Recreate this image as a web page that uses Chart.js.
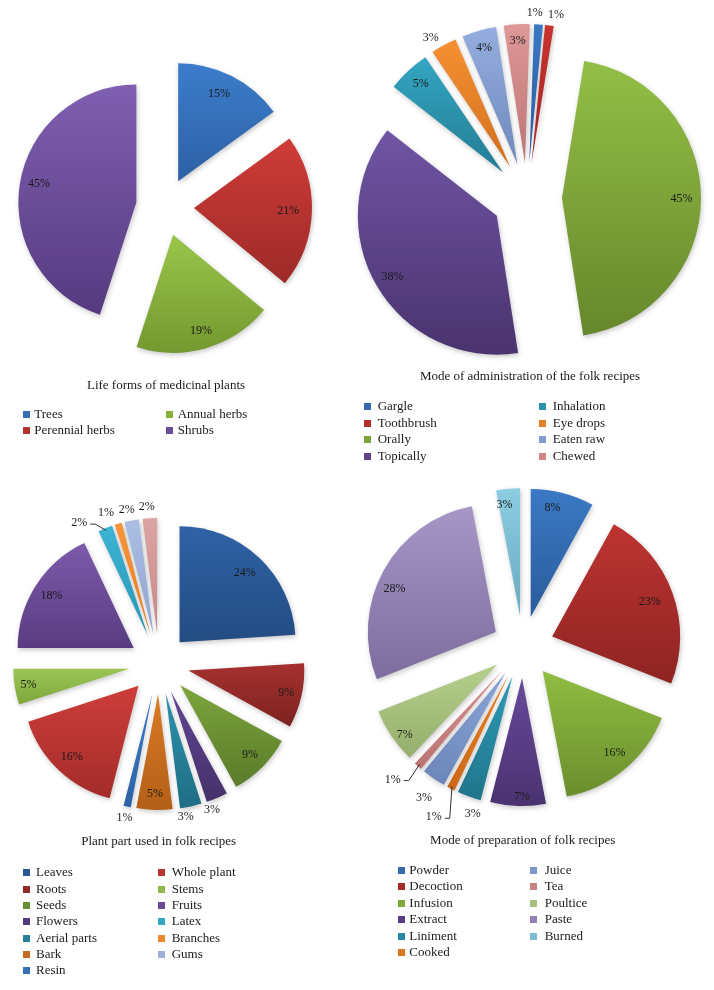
<!DOCTYPE html>
<html><head><meta charset="utf-8">
<script src="https://cdn.jsdelivr.net/npm/chart.js@4.4.0/dist/chart.umd.min.js"></script>
<style>
html,body{margin:0;padding:0;background:#fff;}
body{width:714px;height:990px;overflow:hidden;position:relative;font-family:"Liberation Serif","Times New Roman",serif;color:#1a1a1a;}
canvas{position:absolute;}
.title{position:absolute;font-size:13px;white-space:nowrap;transform:translateX(-50%);line-height:16px;}
.leg{position:absolute;font-size:13px;white-space:nowrap;line-height:16px;height:16px;}
.sq{position:absolute;width:7px;height:7px;}
</style>
</head><body>
<script>
// ---- data ----
const lifeFormLabels = ['Trees', 'Perennial herbs', 'Annual herbs', 'Shrubs'];
const lifeFormValues = [15, 21, 19, 45];

const adminLabels = ['Gargle', 'Toothbrush', 'Orally', 'Topically', 'Inhalation', 'Eye drops', 'Eaten raw', 'Chewed'];
const adminValues = [1, 1, 45, 38, 5, 3, 4, 3];

const partLabels = ['Leaves', 'Roots', 'Seeds', 'Flowers', 'Aerial parts', 'Bark', 'Resin', 'Whole plant', 'Stems', 'Fruits', 'Latex', 'Branches', 'Gums', 'Others'];
const partValues = [24, 9, 9, 3, 3, 5, 1, 16, 5, 18, 2, 1, 2, 2];

const prepLabels = ['Powder', 'Decoction', 'Infusion', 'Extract', 'Liniment', 'Cooked', 'Juice', 'Tea', 'Poultice', 'Paste', 'Burned'];
const prepValues = [8, 23, 16, 7, 3, 1, 3, 1, 7, 28, 3];

const chartTitles = ['Life forms of medicinal plants', 'Mode of administration of the folk recipes', 'Plant part used in folk recipes', 'Mode of preparation of folk recipes'];

// ---- styles / layout ----
const specs = [
  { labels: lifeFormLabels, values: lifeFormValues, title: chartTitles[0],
    cx: 165, cy: 207, radius: 118, explode: 29, rotation: 0,
    light: ['#3c7dcb', '#cf3c38', '#9ac64b', '#7f5fb0'],
    dark:  ['#2d60a5', '#9d2a28', '#73982f', '#563a80'],
    labelR: [0.82, 0.80, 0.85, 0.84], labelShift: [-2, 0, 0, 2], leaders: [],
    titleX: 166, titleY: 385, legRows: 2, legY0: 413.5, legDy: 16, legCols: [[22.7, 34.3], [166, 177.7]], legCount: 4 },
  { labels: adminLabels, values: adminValues, title: chartTitles[1],
    cx: 527, cy: 198, radius: 139, explode: 35, rotation: 2,
    light: ['#3a78c4', '#c9322f', '#93bf46', '#7055a4', '#34a6c2', '#f59132', '#95aedf', '#de9898'],
    dark:  ['#2b5c9e', '#a02725', '#66872b', '#4a336e', '#237c93', '#d26f1c', '#6f89bb', '#bd7474'],
    labelR: [1.08, 1.08, 0.86, 0.87, 0.87, 1.09, 0.87, 0.88], labelShift: [-1.7, 2, 0, 0, 0, -3, 0, 0], leaders: [],
    titleX: 530, titleY: 376, legRows: 4, legY0: 406.3, legDy: 16.5, legCols: [[364.3, 377.7], [538.7, 552.7]], legCount: 8 },
  { labels: partLabels, values: partValues, title: chartTitles[2],
    cx: 159, cy: 664, radius: 116, explode: 30, rotation: 0,
    light: ['#2f62a6', '#a6312f', '#7ca53b', '#614592', '#2c92ad', '#db7b26', '#3b7bc6', '#cd3d3a', '#9bc654', '#7d5aab', '#3db4d4', '#f8953b', '#abbee4', '#dca4a4'],
    dark:  ['#234c82', '#7c2220', '#5a7a2a', '#45306a', '#1f6e84', '#b35f17', '#2e62a6', '#a32c2a', '#7ea73c', '#593c81', '#2996b5', '#e57d22', '#8fa3cf', '#c68787'],
    labelR: [0.82, 0.865, 0.85, 1.08, 1.08, 0.865, 1.10, 0.84, 0.88, 0.84, 1.14, 1.12, 1.10, 1.10],
    labelShift: [0, 0, 0, 4.3, 3.3, 0, 0, 0, 0, 0, -9.7, -3.9, -1.2, -1.1], leaders: [10],
    titleX: 158.7, titleY: 841, legRows: 7, legY0: 872.3, legDy: 16.35, legCols: [[22.7, 36], [158.3, 171.7]], legCount: 13 },
  { labels: prepLabels, values: prepValues, title: chartTitles[3],
    cx: 522.5, cy: 646.5, radius: 128, explode: 31, rotation: 0,
    light: ['#3b79c4', '#bd3432', '#90bd42', '#67499b', '#2e9bb6', '#ee8526', '#8aa6da', '#d99090', '#b5cf8c', '#a697c7', '#8ccde2'],
    dark:  ['#2a5b9b', '#8e2422', '#6b8e2d', '#4a3270', '#20758b', '#cc6817', '#6b85b8', '#bb7272', '#95ae6b', '#7d6d9e', '#6aaac0'],
    labelR: [0.87, 0.81, 0.85, 0.93, 1.12, 1.26, 1.17, 1.21, 0.91, 0.86, 0.88],
    labelShift: [-3.1, 0, -1.7, -1.8, -3.7, 0.8, -1.2, 3.7, -3.2, -5.7, -2.6], leaders: [5, 7],
    titleX: 522.7, titleY: 840, legRows: 6, legY0: 869.5, legDy: 16.5, legCols: [[397.7, 409.3], [530.3, 544.7]], legCount: 11 }
];

const CANVAS = 400;

function mixHex(a, b) {
  const pa = [1, 3, 5].map(k => parseInt(a.substr(k, 2), 16));
  const pb = [1, 3, 5].map(k => parseInt(b.substr(k, 2), 16));
  return 'rgb(' + pa.map((v, k) => Math.round((v + pb[k]) / 2)).join(',') + ')';
}

function gradientFill(spec) {
  return (c) => {
    const chart = c.chart, a = chart.chartArea, i = c.dataIndex;
    if (!a || i === undefined) return spec.light[0];
    const vals = c.dataset.data;
    const total = vals.reduce((s, v) => s + v, 0);
    let cum = 0; for (let j = 0; j < i; j++) cum += vals[j];
    const base = (spec.rotation - 90) * Math.PI / 180;
    const a0 = base + cum / total * 2 * Math.PI;
    const a1 = base + (cum + vals[i]) / total * 2 * Math.PI;
    const mid = (a0 + a1) / 2;
    const cy = (a.top + a.bottom) / 2 + Math.sin(mid) * spec.explode;
    let ymin = cy, ymax = cy;
    for (let k = 0; k <= 48; k++) {
      const t = a0 + (a1 - a0) * k / 48;
      const y = cy + Math.sin(t) * spec.radius;
      ymin = Math.min(ymin, y); ymax = Math.max(ymax, y);
    }
    const g = chart.ctx.createLinearGradient(0, ymin, 0, ymax + 0.01);
    g.addColorStop(0, spec.light[i]);
    g.addColorStop(1, spec.dark[i]);
    return g;
  };
}

function makePlugin(spec) {
  return {
    id: 'explodeAndLabel',
    beforeDatasetsDraw(chart) {
      const meta = chart.getDatasetMeta(0);
      const a = chart.chartArea;
      const cx = (a.left + a.right) / 2, cy = (a.top + a.bottom) / 2;
      meta.data.forEach(arc => {
        const mid = (arc.startAngle + arc.endAngle) / 2;
        arc.x = cx + Math.cos(mid) * spec.explode;
        arc.y = cy + Math.sin(mid) * spec.explode;
      });
      const ctx = chart.ctx;
      ctx.save();
      ctx.shadowColor = 'rgba(0,0,0,0.22)';
      ctx.shadowBlur = 5;
      ctx.shadowOffsetX = 1;
      ctx.shadowOffsetY = 2;
    },
    afterDatasetsDraw(chart) {
      const ctx = chart.ctx;
      ctx.restore();
      const meta = chart.getDatasetMeta(0);
      const vals = chart.data.datasets[0].data;
      ctx.save();
      ctx.font = '12px "Liberation Serif", "Times New Roman", serif';
      ctx.fillStyle = '#1a1a1a';
      ctx.strokeStyle = '#333';
      ctx.lineWidth = 1;
      ctx.textAlign = 'center';
      ctx.textBaseline = 'middle';
      meta.data.forEach((arc, i) => {
        const am = (arc.startAngle + arc.endAngle) / 2;
        const ang = am + (spec.labelShift[i] || 0) * Math.PI / 180;
        const r = arc.outerRadius * spec.labelR[i];
        const x = arc.x + Math.cos(ang) * r;
        const y = arc.y + Math.sin(ang) * r;
        const text = vals[i] + '%';
        ctx.fillText(text, x, y);
        if (spec.leaders.includes(i)) {
          const w = ctx.measureText(text).width;
          const ex = arc.x + Math.cos(am) * arc.outerRadius * 0.98;
          const ey = arc.y + Math.sin(am) * arc.outerRadius * 0.98;
          ctx.beginPath();
          ctx.moveTo(x + w / 2 + 3, y + 1);
          ctx.lineTo(x + w / 2 + 8, y + 1);
          ctx.lineTo(ex, ey);
          ctx.stroke();
        }
      });
      ctx.restore();
    }
  };
}

specs.forEach((spec) => {
  const cv = document.createElement('canvas');
  cv.width = CANVAS; cv.height = CANVAS;
  cv.style.left = (spec.cx - CANVAS / 2) + 'px';
  cv.style.top = (spec.cy - CANVAS / 2) + 'px';
  cv.style.width = CANVAS + 'px'; cv.style.height = CANVAS + 'px';
  document.body.appendChild(cv);

  new Chart(cv.getContext('2d'), {
    type: 'pie',
    data: {
      labels: spec.labels,
      datasets: [{
        data: spec.values,
        backgroundColor: gradientFill(spec),
        borderWidth: 0,
        hoverOffset: 0
      }]
    },
    options: {
      responsive: false,
      animation: false,
      devicePixelRatio: 1,
      radius: spec.radius,
      rotation: spec.rotation,
      layout: { padding: 0 },
      events: [],
      plugins: { legend: { display: false }, title: { display: false }, tooltip: { enabled: false } }
    },
    plugins: [makePlugin(spec)]
  });

  const t = document.createElement('div');
  t.className = 'title';
  t.textContent = spec.title;
  t.style.left = spec.titleX + 'px';
  t.style.top = (spec.titleY - 8) + 'px';
  document.body.appendChild(t);

  for (let i = 0; i < spec.legCount; i++) {
    const col = Math.floor(i / spec.legRows), row = i % spec.legRows;
    const y = spec.legY0 + row * spec.legDy;
    const sq = document.createElement('div');
    sq.className = 'sq';
    sq.style.background = mixHex(spec.light[i], spec.dark[i]);
    sq.style.left = spec.legCols[col][0] + 'px';
    sq.style.top = (y - 3) + 'px';
    document.body.appendChild(sq);
    const lg = document.createElement('div');
    lg.className = 'leg';
    lg.textContent = spec.labels[i];
    lg.style.left = spec.legCols[col][1] + 'px';
    lg.style.top = (y - 8) + 'px';
    document.body.appendChild(lg);
  }
});
</script>
</body></html>
